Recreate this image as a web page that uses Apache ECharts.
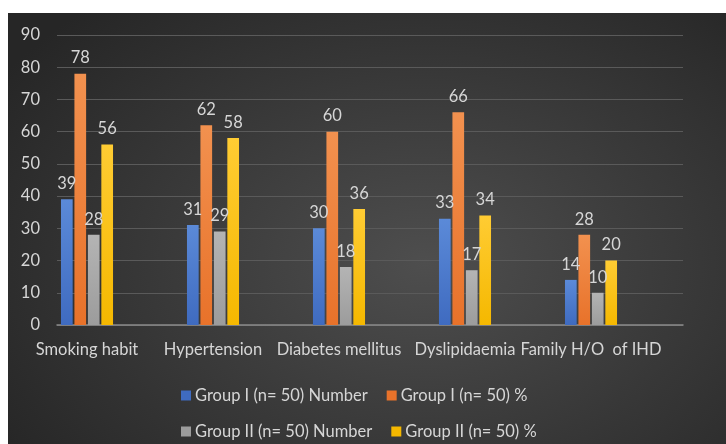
<!DOCTYPE html>
<html>
<head>
<meta charset="utf-8">
<script src="https://cdn.jsdelivr.net/npm/echarts@6/dist/echarts.min.js"></script>
<style>
html,body{margin:0;padding:0;background:#fff;}
#bg{position:absolute;left:8px;top:13px;width:718px;height:431px;
background:radial-gradient(ellipse 70% 80% at 58% 58%, #4e4e4e 0%, #3c3c3c 45%, #262626 100%);}
#chart{position:absolute;left:0;top:0;width:726px;height:444px;}
</style>
</head>
<body>
<div id="bg"></div>
<div id="chart"></div>
<script>
var categories = ['Smoking habit', 'Hypertension', 'Diabetes mellitus', 'Dyslipidaemia', 'Family H/O  of IHD'];
var seriesNames = ['Group I (n= 50) Number', 'Group I (n= 50) %', 'Group II (n= 50) Number', 'Group II (n= 50) %'];
var group1Number = [39, 31, 30, 33, 14];
var group1Pct = [78, 62, 60, 66, 28];
var group2Number = [28, 29, 18, 17, 10];
var group2Pct = [56, 58, 36, 34, 20];
var yTicks = [0, 10, 20, 30, 40, 50, 60, 70, 80, 90];

var colors = [['#5b8ad8', '#3f6bc0'], ['#f2914f', '#e8722a'], ['#b4b4b4', '#9c9c9c'], ['#ffcc33', '#f5b800']];
var FONT = 'Lato, "Open Sans", sans-serif';
var TXT = '#d6d6d6';

function barSeries(name, data, ci) {
  return {
    name: name, type: 'bar', data: data, barWidth: 11.7, barGap: '15%',
    xAxisIndex: 1, yAxisIndex: 1,
    itemStyle: { color: new echarts.graphic.LinearGradient(0, 0, 0, 1, [
      { offset: 0, color: colors[ci][0] }, { offset: 1, color: colors[ci][1] }]) },
    label: { show: true, position: 'top', distance: 7, color: TXT, fontSize: 16.5, fontFamily: FONT },
    emphasis: { disabled: true }
  };
}

var yMin = yTicks[0], yMax = yTicks[yTicks.length - 1];
var chart = echarts.init(document.getElementById('chart'), null, { renderer: 'canvas' });
chart.setOption({
  backgroundColor: 'transparent',
  animation: false,
  grid: [
    { left: 57, right: 43, top: 35, bottom: 119, containLabel: false },
    { left: 24, width: 630, top: 35, bottom: 119, containLabel: false }
  ],
  legend: {
    data: seriesNames.map(function (n, i) { return { name: n, itemStyle: { color: colors[i][1] } }; }),
    left: 176, top: 382, width: 400,
    itemWidth: 10, itemHeight: 10, itemGap: 19, icon: 'rect',
    textStyle: { color: TXT, fontSize: 16.5, fontFamily: FONT, padding: [0, 0, 0, -1] }
  },
  xAxis: [
    {
      type: 'category', gridIndex: 0, data: categories,
      axisLine: { lineStyle: { color: '#8a8a8a', width: 1.5 } },
      axisTick: { show: false }, axisLabel: { show: false }
    },
    {
      type: 'category', gridIndex: 1, data: categories,
      axisLine: { show: false }, axisTick: { show: false },
      axisLabel: { color: TXT, fontSize: 16.5, fontFamily: FONT, margin: 16, interval: 0 }
    }
  ],
  yAxis: [
    {
      type: 'value', gridIndex: 0, min: yMin, max: yMax, interval: 10,
      axisLine: { show: false }, axisTick: { show: false },
      axisLabel: { color: TXT, fontSize: 16.5, fontFamily: FONT, margin: 17 },
      splitLine: { lineStyle: { color: '#5a5a5a', width: 1 } }
    },
    {
      type: 'value', gridIndex: 1, min: yMin, max: yMax, interval: 10, show: false,
      splitLine: { show: false }
    }
  ],
  series: [
    barSeries(seriesNames[0], group1Number, 0),
    barSeries(seriesNames[1], group1Pct, 1),
    barSeries(seriesNames[2], group2Number, 2),
    barSeries(seriesNames[3], group2Pct, 3)
  ]
});
</script>
</body>
</html>
